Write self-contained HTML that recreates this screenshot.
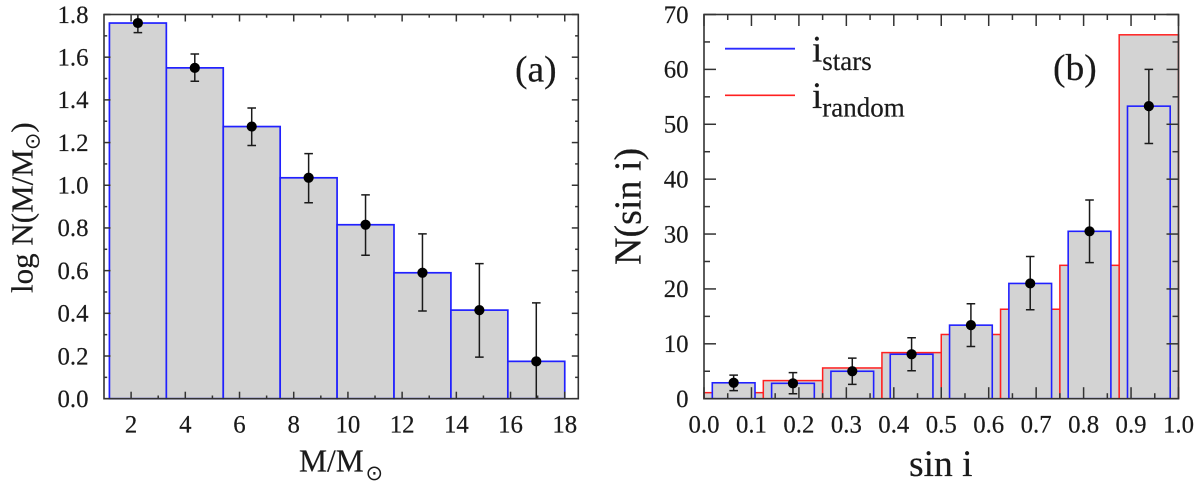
<!DOCTYPE html>
<html lang="en">
<head>
<meta charset="utf-8">
<title>Mass and inclination histograms</title>
<style>
html,body{margin:0;padding:0;background:#fff;width:1200px;height:485px;overflow:hidden}
svg{display:block}
text{font-family:"Liberation Serif",serif;fill:#1a1a1a;stroke:#1a1a1a;stroke-width:.2}
.tick{font-size:24.8px}
.sun{font-family:"DejaVu Sans",sans-serif;stroke-width:0}
</style>
</head>
<body>
<svg id="chart" width="1200" height="485" viewBox="0 0 1200 485" xmlns="http://www.w3.org/2000/svg">
  <defs>
    <clipPath id="clip-a"><rect x="104" y="14.5" width="474.3" height="384.2"></rect></clipPath>
    <clipPath id="clip-b"><rect x="704" y="14.5" width="474.5" height="384.2"></rect></clipPath>
  </defs>

  <g id="panel-a"></g>
  <g id="panel-b"></g>

  <text x="515" y="81.5" font-size="37.5">(a)</text>
  <text x="1053" y="80" font-size="37.5">(b)</text>

  <text x="299" y="471.5" font-size="31.5">M/M</text>
  <text x="365.5" y="480" font-size="21" class="sun">⊙</text>

  <text transform="translate(32.5,293) rotate(-90)" font-size="31">log N(M/M<tspan class="sun" font-size="21" dy="7" dx="-1">⊙</tspan><tspan dy="-7">)</tspan></text>

  <text x="909" y="476" font-size="37.5">sin i</text>
  <text transform="translate(640.5,265) rotate(-90)" font-size="38">N(sin i)</text>

  <g>
    <line x1="725" x2="795" y1="48.7" y2="48.7" stroke="#2a2aff" stroke-width="1.8"></line>
    <text x="812" y="61.5" font-size="37">i<tspan font-size="27" dy="8.5">stars</tspan></text>
    <line x1="725" x2="795" y1="95.3" y2="95.3" stroke="#ff2020" stroke-width="1.6"></line>
    <text x="812" y="108" font-size="37">i<tspan font-size="27" dy="8.5">random</tspan></text>
  </g>
</svg>

<script>
// Panel (a) data
const massBinEdges = [1.2, 3.3, 5.4, 7.5, 9.6, 11.7, 13.8, 15.9, 18.0];
const logCounts    = [1.76, 1.55, 1.275, 1.035, 0.815, 0.59, 0.415, 0.175];
const logErrHigh   = [1.81, 1.615, 1.362, 1.148, 0.955, 0.772, 0.633, 0.449];
const logErrLow    = [1.715, 1.487, 1.186, 0.918, 0.672, 0.411, 0.195, 0];
const massTickLabels  = ['2','4','6','8','10','12','14','16','18'];
const massMinorTicks  = [3,5,7,9,11,13,15,17];
const logTickLabels   = ['0.0','0.2','0.4','0.6','0.8','1.0','1.2','1.4','1.6','1.8'];
const logMinorTicks   = [0.1,0.3,0.5,0.7,0.9,1.1,1.3,1.5,1.7];

// Panel (b) data
const sinBinEdges   = [0, 0.125, 0.25, 0.375, 0.5, 0.625, 0.75, 0.875, 1.0];
const randomCounts  = [1.1, 3.3, 5.6, 8.4, 11.7, 16.3, 24.3, 66.3];
const starCounts    = [2.9, 2.8, 5.0, 8.1, 13.4, 21.0, 30.5, 53.3];
const starErrHigh   = [4.3, 4.74, 7.4, 11.1, 17.3, 25.9, 36.2, 60.0];
const starErrLow    = [1.46, 0.9, 2.6, 5.1, 9.5, 16.2, 24.8, 46.5];
const starBarWidths = [0.09, 0.09, 0.09, 0.09, 0.09, 0.09, 0.09, 0.09];
const sinTickLabels = ['0.0','0.1','0.2','0.3','0.4','0.5','0.6','0.7','0.8','0.9','1.0'];
const sinMinorTicks = [0.05,0.15,0.25,0.35,0.45,0.55,0.65,0.75,0.85,0.95];
const countTickLabels = ['0','10','20','30','40','50','60','70'];
const countMinorTicks = [5,15,25,35,45,55,65];

const NS = 'http://www.w3.org/2000/svg';
const FRAME = '#333';
const INK = '#1a1a1a';
const FILL = '#d3d3d3';
const BLUE = '#2020ff';
const RED = '#ff2020';

function make(tag, attrs, parent) {
  const node = document.createElementNS(NS, tag);
  for (const k in attrs) node.setAttribute(k, attrs[k]);
  parent.appendChild(node);
  return node;
}

// Axis functions
const axA = { left:104, right:578.3, top:14.5, bottom:398.7 };
const axB = { left:704, right:1178.5, top:14.5, bottom:398.7 };
const xA = v => 104 + (v - 1) * (474.3 / 17.5);
const yA = v => 398.7 - v * (384.2 / 1.8);
const xB = v => 704 + v * 474.5;
const yB = v => 398.7 - v * (384.2 / 70);

function drawTicks(parent, ax, xs, ys, xMinor, yMinor, xLabels, yLabels, lenMajX, lenMinX, lenMajY, lenMinY, yLabelRight) {
  const g = make('g', {}, parent);
  
  
  const tick = (x1, y1, x2, y2) => {
    const t = make('line', { x1, y1, x2, y2, stroke: FRAME, 'stroke-width': 1.5 }, g);
    
    
  };
  const xMarks = xLabels.map(Number);
  const yMarks = yLabels.map(Number);
  xMarks.forEach(v => {
    tick(xs(v), ax.bottom, xs(v), ax.bottom - lenMajX);
    tick(xs(v), ax.top, xs(v), ax.top + lenMajX);
  });
  xMinor.forEach(v => {
    tick(xs(v), ax.bottom, xs(v), ax.bottom - lenMinX);
    tick(xs(v), ax.top, xs(v), ax.top + lenMinX);
  });
  yMarks.forEach(v => {
    tick(ax.left, ys(v), ax.left + lenMajY, ys(v));
    tick(ax.right, ys(v), ax.right - lenMajY, ys(v));
  });
  yMinor.forEach(v => {
    tick(ax.left, ys(v), ax.left + lenMinY, ys(v));
    tick(ax.right, ys(v), ax.right - lenMinY, ys(v));
  });
  xLabels.forEach(s => {
    const t = make('text', { x: xs(Number(s)), y: 432.3, 'text-anchor': 'middle', class: 'tick' }, g);
    t.textContent = s;
    
    
  });
  yLabels.forEach(s => {
    const t = make('text', { x: yLabelRight, y: ys(Number(s)) + 8.3, 'text-anchor': 'end', class: 'tick' }, g);
    t.textContent = s;
    
    
  });
}

function drawFrame(parent, ax) {
  const f = make('rect', { x: ax.left, y: ax.top, width: ax.right - ax.left, height: ax.bottom - ax.top, fill: 'none', stroke: FRAME, 'stroke-width': 1.6 }, parent);
  
  
}

function drawErrors(parent, clipId, xs, ys, centers, values, lows, highs) {
  const g = make('g', { 'clip-path': 'url(#' + clipId + ')' }, parent);
  
  
  const cap = 4.3;
  centers.forEach((c, i) => {
    const cx = xs(c);
    const yHi = ys(highs[i]);
    const yLo = ys(lows[i]);
    const d = 'M' + cx + ' ' + yHi + 'V' + yLo +
              'M' + (cx - cap) + ' ' + yHi + 'H' + (cx + cap) +
              'M' + (cx - cap) + ' ' + yLo + 'H' + (cx + cap);
    const e = make('path', { d, fill: 'none', stroke: INK, 'stroke-width': 1.5 }, g);
    
    
    const p = make('circle', { cx, cy: ys(values[i]), r: 5.1, fill: '#000' }, g);
    
    
  });
}

function binCenters(edges) {
  return edges.slice(0, -1).map((e, i) => (e + edges[i + 1]) / 2);
}

// Panel (a)
(function () {
  const root = document.getElementById('panel-a');
  const centers = binCenters(massBinEdges);
  logCounts.forEach((v, i) => {
    const x0 = xA(massBinEdges[i]);
    const x1 = xA(massBinEdges[i + 1]);
    const b = make('rect', { x: x0, y: yA(v), width: x1 - x0, height: yA(0) - yA(v), fill: FILL, stroke: BLUE, 'stroke-width': 1.7 }, root);
    
    
  });
  drawTicks(root, axA, xA, yA, massMinorTicks, logMinorTicks, massTickLabels, logTickLabels, 7, 3.2, 6.5, 3.2, 88.5);
  drawErrors(root, 'clip-a', xA, yA, centers, logCounts, logErrLow, logErrHigh);
  drawFrame(root, axA);
})();

// Panel (b)
(function () {
  const root = document.getElementById('panel-b');
  const centers = binCenters(sinBinEdges);
  randomCounts.forEach((v, i) => {
    const x0 = xB(sinBinEdges[i]);
    const x1 = xB(sinBinEdges[i + 1]);
    const b = make('rect', { x: x0, y: yB(v), width: x1 - x0, height: yB(0) - yB(v), fill: FILL, stroke: RED, 'stroke-width': 1.5 }, root);
    
    
  });
  starCounts.forEach((v, i) => {
    const x0 = xB(centers[i] - starBarWidths[i] / 2);
    const x1 = xB(centers[i] + starBarWidths[i] / 2);
    const b = make('rect', { x: x0, y: yB(v), width: x1 - x0, height: yB(0) - yB(v), fill: FILL, stroke: BLUE, 'stroke-width': 1.6 }, root);
    
    
  });
  drawTicks(root, axB, xB, yB, sinMinorTicks, countMinorTicks, sinTickLabels, countTickLabels, 11.5, 5.5, 12, 6, 688.5);
  drawErrors(root, 'clip-b', xB, yB, centers, starCounts, starErrLow, starErrHigh);
  drawFrame(root, axB);
})();
</script>
</body>
</html>
